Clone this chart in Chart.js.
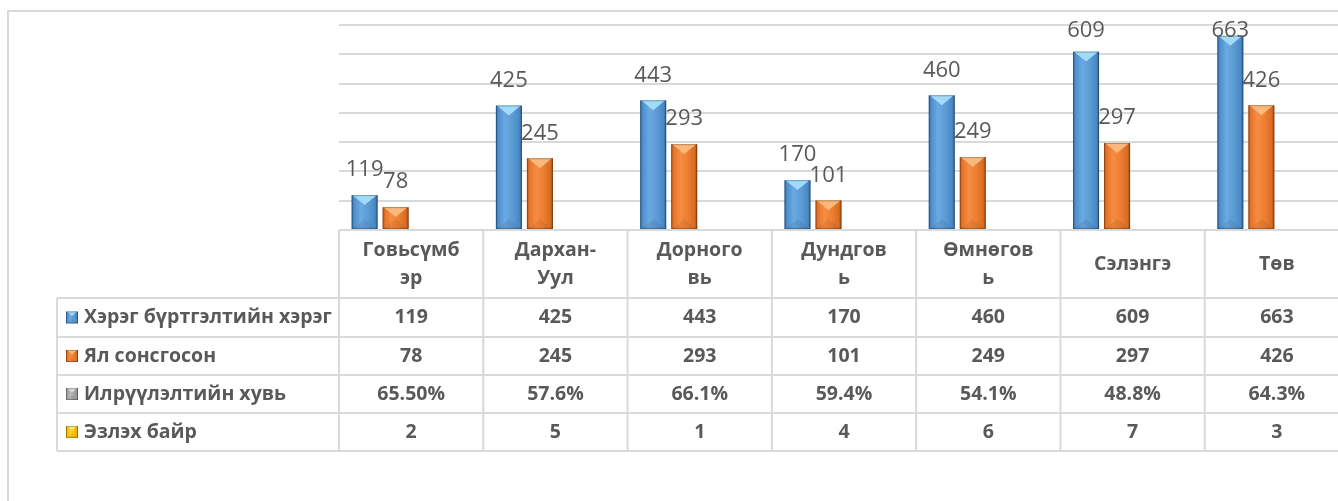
<!DOCTYPE html>
<html>
<head>
<meta charset="utf-8">
<script src="https://cdn.jsdelivr.net/npm/chart.js@4/dist/chart.umd.min.js"></script>
<style>
  html, body { margin: 0; padding: 0; background: #ffffff; overflow: hidden; width: 1338px; height: 501px; }
  canvas { display: block; }
</style>
</head>
<body>
<canvas id="c" width="1365" height="501"></canvas>
<script>
// ---- data ----
const categories = [["Говьсүмб", "эр"], ["Дархан-", "Уул"], ["Дорного", "вь"], ["Дундгов", "ь"], ["Өмнөгов", "ь"], ["Сэлэнгэ"], ["Төв"]];
const seriesNames = ["Хэрэг бүртгэлтийн хэрэг", "Ял сонсгосон", "Илрүүлэлтийн хувь", "Эзлэх байр"];
const registeredCases = [119, 425, 443, 170, 460, 609, 663];
const sentenced = [78, 245, 293, 101, 249, 297, 426];
const detectionRate = [0.655, 0.576, 0.661, 0.594, 0.541, 0.488, 0.643];
const detectionRateLabels = ["65.50%", "57.6%", "66.1%", "59.4%", "54.1%", "48.8%", "64.3%"];
const rank = [2, 5, 1, 4, 6, 7, 3];
const yTicks = { min: 0, max: 700, step: 100 };

const palette = [
  { base: '#5b9bd5', stops: ['#2f6aa6', '#4f8fcd', '#6aa9e1', '#5b9bd5', '#4a88c4', '#2c5f93'], top: '#a2dbfa' },
  { base: '#ed7d31', stops: ['#b95514', '#e5752a', '#f78d42', '#ed7d31', '#d86c22', '#9e4810'], top: '#fbb87c' },
  { base: '#a5a5a5', stops: ['#7c7c7c', '#a0a0a0', '#b8b8b8', '#a5a5a5', '#959595', '#707070'], top: '#d8d8d8' },
  { base: '#ffc000', stops: ['#c79500', '#f5b800', '#ffd030', '#ffc000', '#e8ae00', '#b88a00'], top: '#ffe480' }
];

const tableRows = [
  registeredCases.map(String),
  sentenced.map(String),
  detectionRateLabels,
  rank.map(String)
];

const GRID = '#d9d9d9';
const TEXT = '#595959';

function paintBar(ctx, left, right, top, bottom, pal) {
  const w = right - left;
  if (bottom - top <= 0) return;
  const g = ctx.createLinearGradient(left, 0, right, 0);
  const s = pal.stops;
  g.addColorStop(0, s[0]); g.addColorStop(0.1, s[1]); g.addColorStop(0.35, s[2]);
  g.addColorStop(0.65, s[3]); g.addColorStop(0.9, s[4]); g.addColorStop(1, s[5]);
  ctx.fillStyle = g;
  ctx.fillRect(left, top, w, bottom - top);
  const h = bottom - top;
  const tri = Math.min(w * 0.38, h / 2);
  ctx.fillStyle = pal.top;
  ctx.beginPath();
  ctx.moveTo(left + 1, top); ctx.lineTo(right - 1, top); ctx.lineTo((left + right) / 2, top + tri);
  ctx.closePath(); ctx.fill();
  ctx.fillStyle = 'rgba(0,0,0,0.07)';
  ctx.beginPath();
  ctx.moveTo(left + 1, bottom); ctx.lineTo(right - 1, bottom); ctx.lineTo((left + right) / 2, bottom - tri);
  ctx.closePath(); ctx.fill();
  ctx.strokeStyle = 'rgba(0,0,0,0.25)';
  ctx.lineWidth = 1;
  ctx.strokeRect(left + 0.5, top + 0.5, w - 1, h - 1);
}

const styledBars = {
  id: 'styledBars',
  afterDatasetsDraw(chart) {
    const ctx = chart.ctx;
    ctx.save();
    ctx.beginPath();
    ctx.rect(chart.chartArea.left, 0, chart.chartArea.right - chart.chartArea.left, chart.chartArea.bottom);
    ctx.clip();
    chart.data.datasets.forEach((ds, di) => {
      const meta = chart.getDatasetMeta(di);
      meta.data.forEach(el => {
        const p = el.getProps(['x', 'y', 'base', 'width'], true);
        const h = p.base - p.y;
        if (h < 0.05) return;
        if (h < 3) {
          const a = Math.max(0, Math.min(0.55, (h - 1.5) * 1.5));
          if (a <= 0) return;
          ctx.fillStyle = palette[di].base;
          ctx.globalAlpha = a;
          ctx.fillRect(p.x - p.width / 2, p.base - 2, p.width, 2);
          ctx.globalAlpha = 1;
          return;
        }
        paintBar(ctx, p.x - p.width / 2, p.x + p.width / 2, p.y, p.base, palette[di]);
      });
    });
    ctx.restore();

    ctx.save();
    ctx.font = '22px "Open Sans"';
    ctx.fillStyle = TEXT;
    ctx.textAlign = 'center';
    ctx.textBaseline = 'middle';
    [0, 1].forEach(di => {
      const meta = chart.getDatasetMeta(di);
      meta.data.forEach((el, i) => {
        const p = el.getProps(['x', 'y'], true);
        const cy = Math.max(p.y - 25, 31);
        ctx.fillText(String(chart.data.datasets[di].data[i]), p.x, cy);
      });
    });
    ctx.restore();
  }
};

const dataTable = {
  id: 'dataTable',
  afterDraw(chart) {
    const ctx = chart.ctx;
    const ca = chart.chartArea;
    const xs = chart.scales.x;
    const n = chart.data.labels.length;
    const cw = (ca.right - ca.left) / n;
    const W = chart.width;
    const headTop = ca.bottom, headBot = 298;
    const rowY = [298, 337, 375, 413, 451];
    const legLeft = 57;
    ctx.save();
    ctx.strokeStyle = GRID;
    ctx.lineWidth = 2;
    ctx.beginPath();
    ctx.moveTo(8, 505); ctx.lineTo(8, 11); ctx.lineTo(W + 5, 11);
    ctx.stroke();
    ctx.beginPath();
    ctx.moveTo(ca.left, headTop); ctx.lineTo(W + 5, headTop);
    rowY.forEach(y => { ctx.moveTo(legLeft, y); ctx.lineTo(W + 5, y); });
    ctx.moveTo(legLeft, headBot); ctx.lineTo(legLeft, rowY[4]);
    for (let i = 0; i <= n; i++) {
      const x = ca.left + i * cw;
      ctx.moveTo(x, headTop); ctx.lineTo(x, rowY[4]);
    }
    ctx.stroke();

    ctx.fillStyle = TEXT;
    ctx.textAlign = 'center';
    ctx.textBaseline = 'middle';
    ctx.font = 'bold 19.5px "Open Sans"';
    chart.data.labels.forEach((lab, i) => {
      const x = xs.getPixelForValue(i);
      const lines = Array.isArray(lab) ? lab : [lab];
      const mid = (headTop + headBot) / 2;
      const lh = 28;
      lines.forEach((t, k) => {
        ctx.fillText(t, x, mid + (k - (lines.length - 1) / 2) * lh);
      });
    });
    tableRows.forEach((row, r) => {
      const cy = (rowY[r] + rowY[r + 1]) / 2;
      row.forEach((t, i) => {
        ctx.fillText(t, xs.getPixelForValue(i), cy);
      });
    });
    ctx.textAlign = 'left';
    chart.data.datasets.forEach((ds, r) => {
      const cy = (rowY[r] + rowY[r + 1]) / 2;
      const s = 12;
      paintBar(ctx, 66, 66 + s, cy - s / 2, cy + s / 2, palette[r]);
      ctx.fillStyle = TEXT;
      ctx.fillText(ds.label, 84, cy);
    });
    ctx.restore();
  }
};

const chart = new Chart(document.getElementById('c'), {
  type: 'bar',
  data: {
    labels: categories,
    datasets: [
      { label: seriesNames[0], data: registeredCases, backgroundColor: 'rgba(0,0,0,0)' },
      { label: seriesNames[1], data: sentenced, backgroundColor: 'rgba(0,0,0,0)' },
      { label: seriesNames[2], data: detectionRate, backgroundColor: 'rgba(0,0,0,0)' },
      { label: seriesNames[3], data: rank, backgroundColor: 'rgba(0,0,0,0)' }
    ]
  },
  options: {
    responsive: false,
    animation: false,
    events: [],
    layout: { padding: { left: 339, top: 25, right: 16, bottom: 271 } },
    datasets: { bar: { categoryPercentage: 0.86, barPercentage: 0.84 } },
    plugins: { legend: { display: false }, tooltip: { enabled: false } },
    scales: {
      x: { display: false },
      y: {
        display: true,
        min: yTicks.min, max: yTicks.max,
        ticks: { display: false, stepSize: yTicks.step },
        grid: { color: GRID, lineWidth: 2, drawTicks: false },
        border: { display: false },
        afterFit(scale) { scale.width = 0; }
      }
    }
  },
  plugins: [styledBars, dataTable]
});
</script>
</body>
</html>
